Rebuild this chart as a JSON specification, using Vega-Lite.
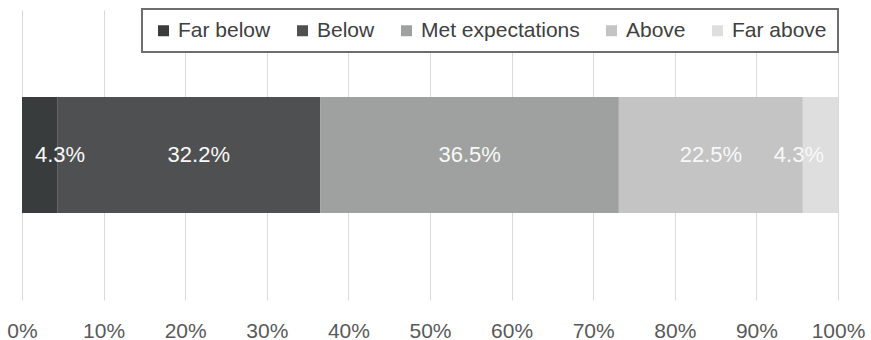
{
  "$schema": "https://vega.github.io/schema/vega-lite/v6.json",
  "width": 816,
  "height": 290,
  "autosize": {"type": "none"},
  "padding": {"left": 22, "top": 10, "right": 33, "bottom": 40},
  "background": "white",
  "config": {
    "view": {"stroke": null},
    "font": "Liberation Sans"
  },
  "data": {
    "values": [
      {"cat": "all", "level": "Far below", "rank": 1, "share": 0.043},
      {"cat": "all", "level": "Below", "rank": 2, "share": 0.322},
      {"cat": "all", "level": "Met expectations", "rank": 3, "share": 0.365},
      {"cat": "all", "level": "Above", "rank": 4, "share": 0.225},
      {"cat": "all", "level": "Far above", "rank": 5, "share": 0.043}
    ]
  },
  "encoding": {
    "y": {"field": "cat", "type": "nominal", "axis": null, "scale": {"paddingInner": 0, "paddingOuter": 0.75}},
    "x": {
      "field": "share",
      "type": "quantitative",
      "stack": "normalize",
      "scale": {"domain": [0, 1], "nice": false},
      "axis": {
        "title": null,
        "values": [0, 0.1, 0.2, 0.3, 0.4, 0.5, 0.6, 0.7, 0.8, 0.9, 1],
        "format": ".0%",
        "domain": false,
        "ticks": false,
        "grid": true,
        "gridColor": "#d9d9d9",
        "gridWidth": 1,
        "labelFontSize": 21,
        "labelColor": "#595959",
        "labelPadding": 20,
        "labelFlush": false
      }
    },
    "order": {"field": "rank", "type": "quantitative"}
  },
  "layer": [
    {
      "mark": {"type": "bar"},
      "encoding": {
        "color": {
          "field": "level",
          "type": "nominal",
          "sort": ["Far below", "Below", "Met expectations", "Above", "Far above"],
          "scale": {
            "domain": ["Far below", "Below", "Met expectations", "Above", "Far above"],
            "range": ["#383c3c", "#4f5052", "#9fa1a0", "#c4c4c4", "#dedede"]
          },
          "legend": {
            "title": null,
            "orient": "none",
            "legendX": 120,
            "legendY": -1,
            "direction": "horizontal",
            "columns": 5,
            "symbolType": "square",
            "symbolSize": 121,
            "symbolStrokeWidth": 0,
            "labelFontSize": 21,
            "labelColor": "#404040",
            "labelOffset": 4,
            "columnPadding": 21,
            "padding": 11,
            "strokeColor": "#6e6e6e",
            "fillColor": "white",
            "labelLimit": 300,
            "offset": 0,
            "encode": {"legend": {"update": {"strokeWidth": {"value": 2}}}}
          }
        }
      }
    },
    {
      "mark": {"type": "text", "fontSize": 22, "color": "#f8f8f8", "baseline": "middle"},
      "encoding": {
        "x": {"field": "share", "type": "quantitative", "stack": "normalize", "bandPosition": 0.5},
        "text": {"condition": {"test": "datum.rank == 3 || datum.rank == 4", "field": "share", "type": "quantitative", "format": ".1%"}, "value": ""}
      }
    },
    {
      "mark": {"type": "text", "fontSize": 22, "color": "#f8f8f8", "baseline": "middle", "dx": 10},
      "encoding": {
        "x": {"field": "share", "type": "quantitative", "stack": "normalize", "bandPosition": 0.5},
        "text": {"condition": {"test": "datum.rank == 2", "field": "share", "type": "quantitative", "format": ".1%"}, "value": ""}
      }
    },
    {
      "mark": {"type": "text", "fontSize": 22, "color": "#f8f8f8", "baseline": "middle", "align": "left", "dx": 13},
      "encoding": {
        "x": {"field": "share", "type": "quantitative", "stack": "normalize", "bandPosition": 0},
        "text": {"condition": {"test": "datum.rank == 1", "field": "share", "type": "quantitative", "format": ".1%"}, "value": ""}
      }
    },
    {
      "mark": {"type": "text", "fontSize": 22, "color": "#f8f8f8", "baseline": "middle", "align": "right", "dx": -14},
      "encoding": {
        "x": {"field": "share", "type": "quantitative", "stack": "normalize", "bandPosition": 1},
        "text": {"condition": {"test": "datum.rank == 5", "field": "share", "type": "quantitative", "format": ".1%"}, "value": ""}
      }
    }
  ]
}
